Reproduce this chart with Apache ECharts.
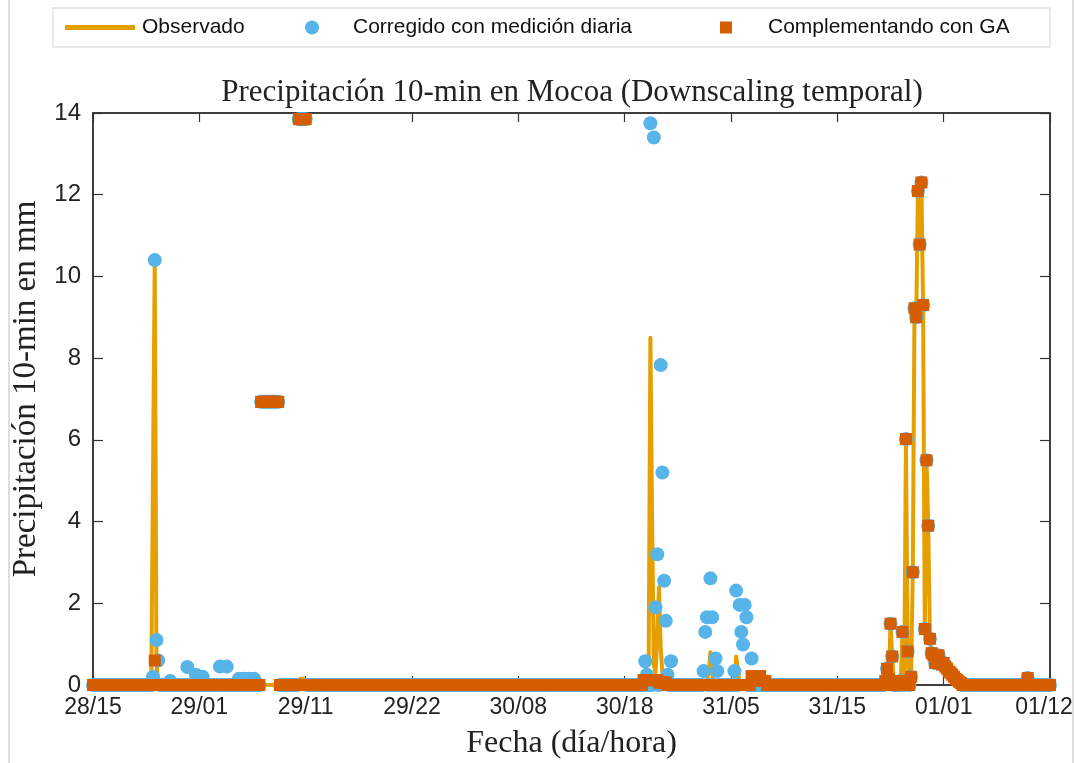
<!DOCTYPE html>
<html>
<head>
<meta charset="utf-8">
<title>Precipitación 10-min en Mocoa</title>
<script src="https://cdn.jsdelivr.net/npm/echarts/dist/echarts.min.js"></script>
<style>
  html, body { margin: 0; padding: 0; background: #fff; }
  #chart { width: 1074px; height: 763px; }
</style>
</head>
<body>
<div id="chart"></div>
<script>
// Time base: 10-minute steps counted from day 28, 15:00
const STEP_MIN = 10;
const TOTAL_STEPS = 558;          // 28/15:00 .. 01/12:00
const START_HOUR = 15;
const DAY_LABELS = ['28', '29', '30', '31', '01'];
const X_TICK_MIN = 620;           // tick spacing in minutes
const Y_MAX = 14;
const Y_TICK = 2;

// Sparse records: [first step, consecutive 10-min values in mm].
// Steps that are not listed recorded 0 mm.
const observadoEvents = [
  [36, [10.4, 0.6]],
  [121, [0.15, 0.15, 0.15, 0.15]],
  [322, [0.3, 0.6, 0.5, 8.5, 4.0, 0.5, 0.3, 1.2, 2.4, 0.9, 0.3]],
  [359, [0.3, 0.8, 0.3]],
  [375, [0.7, 0.4]],
  [462, [0.1, 0.4, 0.15, 1.5, 0.7, 0, 0, 0, 0, 0.1, 1.3, 0, 6.02, 0.82, 0, 0.2,
         2.76, 9.22, 9.0, 12.09, 10.78, 12.3, 9.3, 1.37, 5.5, 3.9, 1.13, 0.78,
         0.73, 0.54, 0.66, 0.73, 0.54, 0.5, 0.54, 0.45, 0.4, 0.33, 0.3, 0.25,
         0.2, 0.15, 0.12, 0.08, 0.05]],
  [545, [0.17]]
];

const corregidoEvents = [
  [35, [0.2, 10.4, 1.1, 0.6]],
  [45, [0.1]],
  [55, [0.44]],
  [60, [0.25]],
  [64, [0.2]],
  [74, [0.45]],
  [78, [0.45]],
  [85, [0.15]],
  [88, [0.15]],
  [91, [0.15]],
  [94, [0.15]],
  [98, [6.93, 6.93, 6.93, 6.93, 6.93, 6.93, 6.93, 6.93, 6.93, 6.93, 6.93]],
  [120, [13.85, 13.85, 13.85, 13.85, 13.85]],
  [322, [0.58, 0.25, 0, 13.75, 0, 13.4, 1.9, 3.2, 0, 7.83, 5.2, 2.55, 1.57, 0.25, 0, 0.58]],
  [356, [0.34, 1.3, 1.66, 0, 2.61, 1.66, 0, 0.65, 0.34]],
  [374, [0.34, 2.31, 0, 1.96, 1.3, 0.99, 1.96, 1.66, 0, 0, 0.65]],
  [462, [0.1, 0.4, 0.15, 1.5, 0.7, 0, 0, 0, 0, 0.1, 1.3, 0, 6.02, 0.82, 0, 0.2,
         2.76, 9.22, 9.0, 12.09, 10.78, 12.3, 9.3, 1.37, 5.5, 3.9, 1.13, 0.78,
         0.73, 0.54, 0.66, 0.73, 0.54, 0.5, 0.54, 0.45, 0.4, 0.33, 0.3, 0.25,
         0.2, 0.15, 0.12, 0.08, 0.05]],
  [545, [0.17]]
];

const complementoEvents = [
  [36, [0.6]],
  [98, [6.93, 6.93, 6.93, 6.93, 6.93, 6.93, 6.93, 6.93, 6.93, 6.93, 6.93]],
  [120, [13.85, 13.85, 13.85, 13.85, 13.85]],
  [321, [0.12, 0.12, 0.12, 0.12, 0.12, 0.12, 0.12, 0.12, 0.12, 0.06, 0.06, 0.06, 0.06, 0.06]],
  [384, [0.22, 0.22, 0.22, 0.22, 0.22, 0.22, 0.1, 0.1, 0.1]],
  [462, [0.1, 0.4, 0.15, 1.5, 0.7, 0, 0, 0, 0, 0.1, 1.3, 0, 6.02, 0.82, 0, 0.2,
         2.76, 9.22, 9.0, 12.09, 10.78, 12.3, 9.3, 1.37, 5.5, 3.9, 1.13, 0.78,
         0.73, 0.54, 0.66, 0.73, 0.54, 0.5, 0.54, 0.45, 0.4, 0.33, 0.3, 0.25,
         0.2, 0.15, 0.12, 0.08, 0.05]],
  [545, [0.17]]
];

// Turn the sparse records into [minutes, mm] pairs for the whole period
function toSeries(events) {
  const vals = new Array(TOTAL_STEPS + 1).fill(0);
  events.forEach(([start, vs]) => vs.forEach((v, k) => { vals[start + k] = v; }));
  return vals.map((v, i) => [i * STEP_MIN, v]);
}

function pad2(n) { return (n < 10 ? '0' : '') + n; }
function dayHour(min) {
  const total = START_HOUR * 60 + Math.round(min);
  const d = Math.floor(total / 1440);
  const h = Math.floor((total % 1440) / 60);
  return DAY_LABELS[d] + '/' + pad2(h);
}

const ORANGE = '#E69F00';
const BLUE = '#56B4E9';
const VERMILLION = '#D55E00';
const SERIF = '"Liberation Serif", "DejaVu Serif", serif';
const SANS = '"Liberation Sans", Arial, sans-serif';
const FRAME = '#333';

const xMax = TOTAL_STEPS * STEP_MIN;

const baseX = {
  type: 'value', min: 0, max: xMax, interval: X_TICK_MIN,
  splitLine: { show: false },
  axisLine: { show: true, onZero: false, lineStyle: { color: FRAME, width: 1.5 } },
  axisTick: { show: true, inside: true, length: 9, lineStyle: { color: FRAME, width: 1.2 } }
};
const baseY = {
  type: 'value', min: 0, max: Y_MAX, interval: Y_TICK,
  splitLine: { show: false },
  axisLine: { show: true, onZero: false, lineStyle: { color: FRAME, width: 1.5 } },
  axisTick: { show: true, inside: true, length: 10, lineStyle: { color: FRAME, width: 1.2 } }
};

const chart = echarts.init(document.getElementById('chart'), null, { renderer: 'canvas' });

chart.setOption({
  animation: false,
  backgroundColor: '#fff',
  title: {
    text: 'Precipitación 10-min en Mocoa (Downscaling temporal)',
    left: 567, top: 72, textAlign: 'center',
    textStyle: { fontFamily: SERIF, fontSize: 31, fontWeight: 'normal', color: '#222' }
  },
  graphic: [
    { type: 'rect', silent: true, z: -10,
      shape: { x: 9, y: -2, width: 1064, height: 770 },
      style: { fill: null, stroke: '#d4d4d4', lineWidth: 1.5 } },
    { type: 'rect', silent: true, z: -10,
      shape: { x: 53, y: 8, width: 997, height: 39 },
      style: { fill: null, stroke: '#e2e2e2', lineWidth: 1.5 } }
  ],
  legend: [
    { data: [{ name: 'Observado', icon: 'rect' }], left: 65, top: 17, padding: 0,
      itemWidth: 70, itemHeight: 5,
      textStyle: { fontFamily: SANS, fontSize: 21, color: '#111', padding: [0, 0, 0, 2] } },
    { data: [{ name: 'Corregido con medición diaria', icon: 'circle' }], left: 305, top: 17, padding: 0,
      itemWidth: 14, itemHeight: 14,
      textStyle: { fontFamily: SANS, fontSize: 21, color: '#111', padding: [0, 0, 0, 29] } },
    { data: [{ name: 'Complementando con GA', icon: 'rect' }], left: 720, top: 17, padding: 0,
      itemWidth: 12, itemHeight: 12,
      textStyle: { fontFamily: SANS, fontSize: 21, color: '#111', padding: [0, 0, 0, 31] } }
  ],
  grid: { left: 93, right: 24, top: 113, bottom: 78, containLabel: false,
          outerBoundsMode: 'none',
          show: true, borderColor: FRAME, borderWidth: 1.5, backgroundColor: 'transparent' },
  xAxis: [
    Object.assign({}, baseX, {
      position: 'bottom',
      name: 'Fecha (día/hora)', nameLocation: 'middle', nameGap: 43,
      nameTextStyle: { fontFamily: SERIF, fontSize: 32, color: '#222' },
      axisLabel: {
        margin: 11, fontFamily: SANS, fontSize: 23, color: '#222',
        // the closing label is nudged left so it stays inside the page
        formatter: v => v >= xMax ? '{end|' + dayHour(v) + '}' : dayHour(v),
        rich: { end: { fontFamily: SANS, fontSize: 23, color: '#222', padding: [0, 12, 0, 0] } }
      }
    }),
    Object.assign({}, baseX, { position: 'top', axisLabel: { show: false } })
  ],
  yAxis: [
    Object.assign({}, baseY, {
      position: 'left',
      name: 'Precipitación 10-min en mm', nameLocation: 'middle', nameGap: 50,
      nameTextStyle: { fontFamily: SERIF, fontSize: 33, color: '#222', padding: [0, 0, 0, 20] },
      axisLabel: { margin: 12, fontFamily: SANS, fontSize: 24, color: '#222' }
    }),
    Object.assign({}, baseY, { position: 'right', axisLabel: { show: false } })
  ],
  series: [
    {
      name: 'Observado', type: 'line', xAxisIndex: 0, yAxisIndex: 0,
      data: toSeries(observadoEvents),
      showSymbol: false, symbol: 'none', z: 2,
      lineStyle: { color: ORANGE, width: 4, join: 'round' },
      itemStyle: { color: ORANGE }
    },
    {
      name: 'Corregido con medición diaria', type: 'scatter', xAxisIndex: 0, yAxisIndex: 0,
      data: toSeries(corregidoEvents),
      symbol: 'circle', symbolSize: 14, z: 3,
      itemStyle: { color: BLUE, opacity: 1 }
    },
    {
      name: 'Complementando con GA', type: 'scatter', xAxisIndex: 0, yAxisIndex: 0,
      data: toSeries(complementoEvents),
      symbol: 'rect', symbolSize: 12, z: 4,
      itemStyle: { color: VERMILLION, opacity: 1 }
    }
  ]
});
</script>
</body>
</html>
